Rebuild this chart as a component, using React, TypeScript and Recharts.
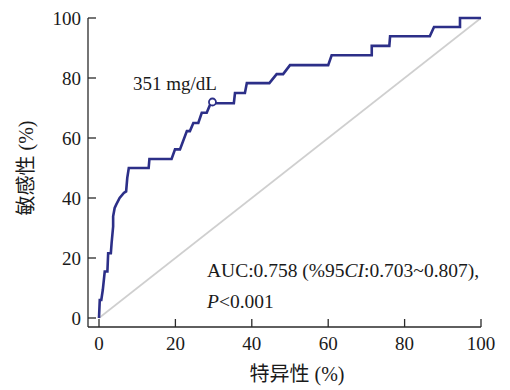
import React from "react";
import {
  LineChart,
  Line,
  XAxis,
  YAxis,
  ReferenceDot,
  Customized,
} from "recharts";

// ROC curve points (x = 特异性 axis, y = 敏感性)
const fpr = [
  0, 0.2, 0.6, 1.0, 1.5, 2.2, 2.4, 3.1, 3.3, 3.7,
  3.7, 4.1, 4.5, 5.4, 6.5, 7.1, 7.4, 7.8, 13.0, 13.2,
  19.0, 19.9, 21.2, 23.0, 23.8, 24.7, 26.0, 26.9, 28.2, 29.1,
  29.6, 35.3, 35.6, 38.2, 38.7, 44.6, 46.5, 48.2, 50.0, 60.0,
  60.9, 71.4, 71.4, 76.0, 76.2, 86.6, 87.7, 94.5, 94.5, 100,
];
const tpr = [
  0, 6, 6, 9.4, 15.5, 15.5, 21.6, 21.6, 25, 30.5,
  33.9, 36.7, 37.8, 40, 41.7, 42.2, 46.7, 50, 50, 53,
  53, 56.2, 56.2, 62.3, 62.3, 65, 65, 68.4, 68.4, 71.2,
  71.6, 71.6, 75, 75, 78.3, 78.3, 81.3, 81.3, 84.3, 84.3,
  87.6, 87.6, 90.7, 90.7, 93.9, 93.9, 97, 97, 100, 100,
];
const diagX = [0, 100];
const diagY = [0, 100];
const cutoff = { fpr: 29.7, tpr: 72, label: "351 mg/dL" };
const xTicks = [0, 20, 40, 60, 80, 100];
const yTicks = [0, 20, 40, 60, 80, 100];

const rocData = fpr.map((x, i) => ({ fpr: x, tpr: tpr[i] }));
const diagData = diagX.map((x, i) => ({ fpr: x, tpr: diagY[i] }));

const SERIF = "'Liberation Serif', 'Times New Roman', 'Noto Sans CJK SC', serif";
const NAVY = "#2c2f88";
const AXIS = "#2a2a2a";

function Annotations() {
  return (
    <g fontFamily={SERIF} fill="#1a1a1a">
      <text x={133} y={90} fontSize={19}>
        {cutoff.label}
      </text>
      <text x={207} y={277} fontSize={19.5}>
        AUC:0.758 (%95<tspan fontStyle="italic">CI</tspan>:0.703~0.807),
      </text>
      <text x={207} y={308} fontSize={19.5}>
        <tspan fontStyle="italic">P</tspan>&lt;0.001
      </text>
      <text x={297} y={381} fontSize={20} textAnchor="middle">
        特异性 (%)
      </text>
      <text
        x={33}
        y={168}
        fontSize={20}
        textAnchor="middle"
        transform="rotate(-90, 33, 168)"
      >
        敏感性 (%)
      </text>
    </g>
  );
}

export default function App() {
  return (
    <div style={{ position: "absolute", left: 0, top: 0, background: "#fff" }}>
      <LineChart
        width={510}
        height={390}
        margin={{ top: 18, right: 29, bottom: 0, left: 0 }}
      >
        <XAxis
          dataKey="fpr"
          type="number"
          domain={[0, 100]}
          ticks={xTicks}
          padding={{ left: 11, right: 0 }}
          height={63}
          tickSize={-8}
          tickMargin={18}
          axisLine={{ stroke: AXIS, strokeWidth: 1.3 }}
          tickLine={{ stroke: AXIS, strokeWidth: 1.3 }}
          tick={{ fill: "#1a1a1a", fontSize: 19, fontFamily: SERIF }}
          allowDuplicatedCategory={false}
        />
        <YAxis
          dataKey="tpr"
          type="number"
          domain={[0, 100]}
          ticks={yTicks}
          padding={{ top: 0, bottom: 9 }}
          width={88}
          tickSize={-8}
          tickMargin={15}
          axisLine={{ stroke: AXIS, strokeWidth: 1.3 }}
          tickLine={{ stroke: AXIS, strokeWidth: 1.3 }}
          tick={{ fill: "#1a1a1a", fontSize: 19, fontFamily: SERIF }}
        />
        <Line
          data={diagData}
          dataKey="tpr"
          type="linear"
          stroke="#cfcfcf"
          strokeWidth={1.6}
          dot={false}
          activeDot={false}
          isAnimationActive={false}
        />
        <Line
          data={rocData}
          dataKey="tpr"
          type="linear"
          stroke={NAVY}
          strokeWidth={2.6}
          dot={false}
          activeDot={false}
          isAnimationActive={false}
        />
        <ReferenceDot
          x={cutoff.fpr}
          y={cutoff.tpr}
          r={3.5}
          fill="#fff"
          stroke={NAVY}
          strokeWidth={1.8}
        />
        <Customized component={Annotations} />
      </LineChart>
    </div>
  );
}
